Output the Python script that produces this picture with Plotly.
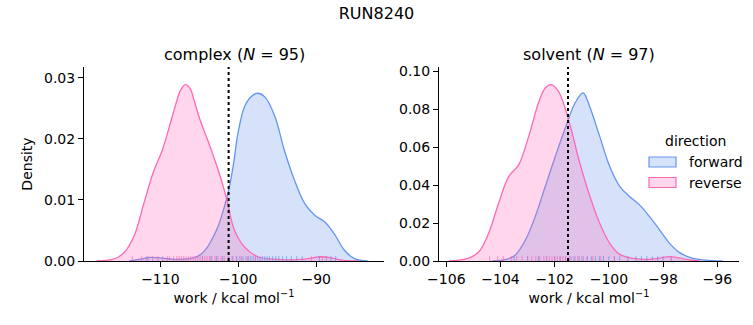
import plotly.graph_objects as go

# ---------------- data ----------------
# complex leg, KDE curves
cx_rev_x = [-118.2, -117.0, -116.0, -114.7, -113.4, -112.1, -110.9, -109.8, -108.8, -108.0,
            -107.4, -106.8, -106.2, -105.5, -104.9, -103.6, -102.3, -101.5, -100.5, -99.2,
            -97.5, -95.4, -93.0, -91.0, -89.4, -88.0, -86.5, -84.5]
cx_rev_y = [0.0, 0.0001, 0.0003, 0.0013, 0.0040, 0.0095, 0.0146, 0.0180, 0.0222, 0.0258,
            0.0280, 0.0289, 0.0283, 0.0256, 0.0231, 0.0187, 0.0138, 0.0102, 0.0051, 0.0023,
            0.0007, 0.0003, 0.0002, 0.0004, 0.0007, 0.0005, 0.0001, 0.0]
cx_fwd_x = [-114.0, -112.5, -111.3, -110.0, -108.5, -107.0, -105.8, -104.9, -104.0, -103.2,
            -102.5, -101.9, -101.2, -100.6, -100.05, -99.2, -98.3, -97.5, -96.6, -95.3,
            -94.1, -92.8, -91.5, -90.2, -88.9, -87.7, -86.4, -85.1, -83.4]
cx_fwd_y = [0.0, 0.0003, 0.0006, 0.0005, 0.0003, 0.0003, 0.0005, 0.0010, 0.0022, 0.0040,
            0.0060, 0.0084, 0.0118, 0.0160, 0.0209, 0.0253, 0.0270, 0.0275, 0.0269, 0.0237,
            0.0182, 0.0133, 0.0095, 0.0075, 0.0064, 0.0045, 0.0018, 0.0004, 0.0]

# solvent leg, KDE curves
sv_rev_x = [-105.9, -105.2, -104.8, -104.44, -104.07, -103.7, -103.33, -102.96, -102.6, -102.35,
            -102.13, -101.86, -101.49, -101.1, -100.7, -100.34, -99.97, -99.6, -99.1, -98.6,
            -98.2, -97.76, -97.4, -97.14, -96.65]
sv_rev_y = [0.0, 0.0014, 0.0049, 0.0146, 0.0305, 0.0445, 0.0507, 0.0657, 0.0833, 0.0912,
            0.0930, 0.0894, 0.0745, 0.0530, 0.0340, 0.0199, 0.0093, 0.0035, 0.0014, 0.0008,
            0.0014, 0.0023, 0.0016, 0.0008, 0.0]
sv_fwd_x = [-104.3, -103.8, -103.45, -103.08, -102.72, -102.35, -101.98, -101.61, -101.25, -100.95,
            -100.71, -100.34, -99.97, -99.6, -99.24, -98.87, -98.5, -98.13, -97.76, -97.39,
            -96.9, -96.28, -95.8]
sv_fwd_y = [0.0, 0.0008, 0.0032, 0.0111, 0.0234, 0.0393, 0.0551, 0.0701, 0.0833, 0.0886,
            0.0815, 0.0657, 0.0498, 0.0393, 0.0340, 0.0296, 0.0234, 0.0164, 0.0093, 0.0044,
            0.0014, 0.0003, 0.0]

# rug (individual work values, approximate)
cx_rev_rug = [-113.6, -112.4, -111.8, -111.0, -110.3, -109.7, -109.1, -108.8, -108.3, -107.9,
              -107.6, -107.3, -107.0, -106.7, -106.4, -106.1, -105.8, -105.5, -105.2, -104.9,
              -104.6, -104.3, -104.0, -103.7, -103.4, -103.0, -102.6, -102.2, -101.8, -101.3,
              -100.8, -100.2, -99.6, -98.8, -97.8, -90.6, -89.2]
cx_fwd_rug = [-111.6, -104.6, -103.5, -102.8, -102.0, -101.2, -100.7, -100.2, -99.8, -99.4,
              -99.0, -98.7, -98.4, -98.1, -97.8, -97.5, -97.2, -96.9, -96.6, -96.3,
              -96.0, -95.6, -95.2, -94.8, -94.3, -93.8, -93.2, -92.5, -91.8, -89.6,
              -88.7, -88.1, -87.5]
sv_rev_rug = [-104.4, -104.1, -103.9, -103.6, -103.4, -103.2, -103.0, -102.85, -102.7, -102.55,
              -102.4, -102.3, -102.2, -102.1, -102.0, -101.9, -101.8, -101.7, -101.6, -101.45,
              -101.3, -101.15, -101.0, -100.8, -100.6, -100.3, -99.8, -97.7]
sv_fwd_rug = [-103.5, -103.0, -102.6, -102.3, -102.0, -101.8, -101.6, -101.4, -101.25, -101.1,
              -100.95, -100.8, -100.65, -100.5, -100.35, -100.2, -100.0, -99.8, -99.6, -99.3,
              -99.0, -98.8, -98.6, -98.4, -98.2, -98.0, -97.7]

# free-energy estimate (dotted vertical line)
cx_vline = -101.24
sv_vline = -101.51

titles = ["complex (<i>N</i> = 95)", "solvent (<i>N</i> = 97)"]
suptitle = "RUN8240"
legend_title = "direction"
legend_names = ["forward", "reverse"]

# ---------------- styling ----------------
BLUE = "#6495ED"
PINK = "#FF69B4"
BLUE_FILL = "rgba(100,149,237,0.27)"
PINK_FILL = "rgba(255,105,180,0.27)"
FONT = "DejaVu Sans"

fig = go.Figure()

panels = [
    dict(xa="x", ya="y", fwd=(cx_fwd_x, cx_fwd_y), rev=(cx_rev_x, cx_rev_y),
         frug=cx_fwd_rug, rrug=cx_rev_rug, vline=cx_vline, ytop=0.0318),
    dict(xa="x2", ya="y2", fwd=(sv_fwd_x, sv_fwd_y), rev=(sv_rev_x, sv_rev_y),
         frug=sv_fwd_rug, rrug=sv_rev_rug, vline=sv_vline, ytop=0.1023),
]

for p in panels:
    for (xs, ys), col, fill, name in [(p["fwd"], BLUE, BLUE_FILL, legend_names[0]),
                                      (p["rev"], PINK, PINK_FILL, legend_names[1])]:
        fig.add_trace(go.Scatter(
            x=xs, y=ys, mode="lines", fill="tozeroy", fillcolor=fill,
            line=dict(color=col, width=1.3, shape="spline", smoothing=1.0),
            name=name, showlegend=False, xaxis=p["xa"], yaxis=p["ya"],
            hoverinfo="skip"))
    h = 0.025 * p["ytop"]
    for rug, col in [(p["frug"], BLUE), (p["rrug"], PINK)]:
        rx, ry = [], []
        for v in rug:
            rx += [v, v, None]
            ry += [0, h, None]
        fig.add_trace(go.Scatter(
            x=rx, y=ry, mode="lines", line=dict(color=col, width=1),
            opacity=0.7, showlegend=False, xaxis=p["xa"], yaxis=p["ya"],
            hoverinfo="skip"))
    fig.add_shape(type="line", xref=p["xa"], yref=p["ya"] + " domain",
                  x0=p["vline"], x1=p["vline"], y0=0, y1=1,
                  line=dict(color="black", width=2, dash="dot"))

axis_common = dict(showline=True, linecolor="black", linewidth=1, ticks="outside",
                   ticklen=5, tickwidth=1, tickcolor="black", showgrid=False,
                   zeroline=False, mirror=False,
                   tickfont=dict(family=FONT, size=14, color="black"))

W, H = 753, 325
L, R, T, B = 84, 14, 67, 64
pw = W - L - R
ph = H - T - B
d1 = [0, 300 / pw]
d2 = [(439 - L) / pw, 1]


def px2x(px):
    return (px - L) / pw


def py2y(py):
    return (H - B - py) / ph


xtitle = "work / kcal mol<sup>−1</sup>"

fig.update_layout(
    width=W, height=H,
    margin=dict(l=L, r=R, t=T, b=B),
    paper_bgcolor="white", plot_bgcolor="white",
    font=dict(family=FONT, size=14, color="black"),
    title=dict(text=suptitle, x=0.5, xref="container", y=1 - 13 / H,
               yref="container", yanchor="middle", xanchor="center",
               font=dict(family=FONT, size=16, color="black")),
    xaxis=dict(domain=d1, range=[-119.8, -81.3], tickvals=[-110, -100, -90],
               title=dict(text=xtitle, standoff=7, font=dict(family=FONT, size=14)),
               **axis_common),
    yaxis=dict(domain=[0, 1], range=[0, 0.0318], tickvals=[0, 0.01, 0.02, 0.03],
               tickformat=".2f",
               title=dict(text="Density", standoff=8, font=dict(family=FONT, size=14)),
               **axis_common),
    xaxis2=dict(domain=d2, range=[-106.27, -95.2], tickvals=[-106, -104, -102, -100, -98, -96],
                title=dict(text=xtitle, standoff=7, font=dict(family=FONT, size=14)),
                anchor="y2", **axis_common),
    yaxis2=dict(domain=[0, 1], range=[0, 0.1023], tickvals=[0, 0.02, 0.04, 0.06, 0.08, 0.10],
                tickformat=".2f", anchor="x2", **axis_common),
    showlegend=False,
)

for t, d in zip(titles, [d1, d2]):
    fig.add_annotation(text=t, xref="paper", yref="paper", x=(d[0] + d[1]) / 2,
                       y=py2y(54), xanchor="center", yanchor="middle",
                       showarrow=False, font=dict(family=FONT, size=16, color="black"))

# legend (matplotlib style: title + patch rectangles)
fig.add_annotation(text=legend_title, xref="paper", yref="paper", x=px2x(695),
                   y=py2y(141), xanchor="center", yanchor="middle", showarrow=False,
                   font=dict(family=FONT, size=14, color="black"))
for i, (name, col, fill) in enumerate(zip(legend_names, [BLUE, PINK], [BLUE_FILL, PINK_FILL])):
    cy = 162 + 20.5 * i
    fig.add_shape(type="rect", xref="paper", yref="paper",
                  x0=px2x(649), x1=px2x(676), y0=py2y(cy + 5), y1=py2y(cy - 5),
                  line=dict(color=col, width=1.2), fillcolor=fill)
    fig.add_annotation(text=name, xref="paper", yref="paper", x=px2x(687), y=py2y(cy),
                       xanchor="left", yanchor="middle", showarrow=False,
                       font=dict(family=FONT, size=14, color="black"))

fig.write_html("out.html")
